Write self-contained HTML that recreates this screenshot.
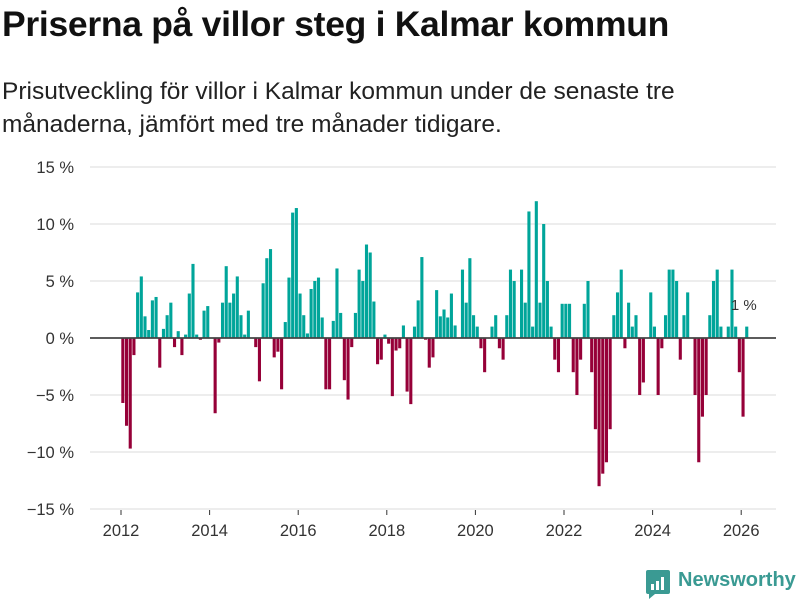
<!DOCTYPE html>
<html><head><meta charset="utf-8">
<style>
body{margin:0;background:#fff;font-family:"Liberation Sans",sans-serif;}
#wrap{position:relative;width:800px;height:600px;overflow:hidden;}
h1{position:absolute;left:2px;top:4px;margin:0;font-size:35.5px;font-weight:bold;color:#111;letter-spacing:-0.3px;white-space:nowrap;}
p.sub{position:absolute;left:2px;top:75px;margin:0;font-size:24.5px;line-height:33px;color:#222;width:700px;}
</style></head><body>
<div id="wrap">
<h1>Priserna på villor steg i Kalmar kommun</h1>
<p class="sub">Prisutveckling för villor i Kalmar kommun under de senaste tre månaderna, jämfört med tre månader tidigare.</p>
<svg id="chart" width="800" height="600" style="position:absolute;left:0;top:0"></svg>
<svg width="26" height="30" style="position:absolute;left:645px;top:570px">
<path d="M1 2 Q1 0 3 0 L23 0 Q25 0 25 2 L25 22 Q25 24 23 24 L10 24 L4 29 L4 24 L3 24 Q1 24 1 22 Z" fill="#3a9a93"/>
<rect x="6" y="14" width="3" height="6" fill="#fff"/><rect x="11" y="11" width="3" height="9" fill="#fff"/><rect x="16" y="7" width="3" height="13" fill="#fff"/>
</svg>
<div style="position:absolute;left:678px;top:569px;font-size:20px;font-weight:bold;color:#3a9a93;">Newsworthy</div>
</div>
<script>
const startYear = 2012;
const values = [
-5.7,-7.7,-9.7,-1.5,4.0,5.4,1.9,0.7,3.3,3.6,-2.6,0.8,2.0,3.1,-0.8,0.6,-1.5,0.3,3.9,6.5,0.3,-0.15,2.4,2.8,0,-6.6,-0.4,3.1,6.3,3.1,3.9,5.4,2.0,0.3,2.4,0,-0.8,-3.8,4.8,7.0,7.8,-1.7,-1.2,-4.5,
1.4,5.3,11.0,11.4,3.9,2.0,0.4,4.3,5.0,5.3,1.8,-4.5,-4.5,1.5,6.1,2.2,-3.7,-5.4,-0.8,2.2,6.0,5.0,8.2,7.5,3.2,-2.3,-1.9,0.3,-0.5,-5.1,-1.1,-0.9,1.1,-4.7,-5.8,1.0,3.3,7.1,-0.15,-2.6,-1.7,4.2,1.9,
2.5,1.8,3.9,1.1,0,6.0,3.1,7.0,2.0,1.0,-0.9,-3.0,0,1.0,2.0,-0.9,-1.9,2.0,6.0,5.0,0,6.0,3.1,11.1,1.0,12.0,3.1,10.0,5.0,1.0,-1.9,-3.0,3.0,3.0,3.0,-3.0,-5.0,-1.9,3.0,5.0,-3.0,-8.0,-13.0,
-11.9,-10.9,-8.0,2.0,4.0,6.0,-0.9,3.1,1.0,2.0,-5.0,-3.9,0,4.0,1.0,-5.0,-0.9,2.0,6.0,6.0,5.0,-1.9,2.0,4.0,0,-5.0,-10.9,-6.9,-5.0,2.0,5.0,6.0,1.0,0,1.0,6.0,1.0,-3.0,-6.9,1.0
];
const yTicks = [15,10,5,0,-5,-10,-15];
const yTickLabels = ["15 %","10 %","5 %","0 %","\u22125 %","\u221210 %","\u221215 %"];
const xTicks = [2012,2014,2016,2018,2020,2022,2024,2026];
const lastLabel = "1 %";

const svg = document.getElementById('chart');
const NS = 'http://www.w3.org/2000/svg';
const y = v => 338 - v * 11.4;
const x = t => 121 + (t - startYear) * 44.3;
function mk(tag, attrs){const e=document.createElementNS(NS,tag);for(const k in attrs)e.setAttribute(k,attrs[k]);svg.appendChild(e);return e;}

yTicks.forEach((t,i)=>{
  if(t!==0){
    const g = mk('line',{x1:90,x2:776,y1:y(t),y2:y(t),stroke:'#e2e2e2','stroke-width':1.3});
    
    
  }
  const l = mk('text',{x:74,y:y(t)+6,'text-anchor':'end','font-size':16.5,fill:'#333','font-family':'Liberation Sans, sans-serif'});
  l.textContent = yTickLabels[i];
  
  
});
xTicks.forEach(t=>{
  const tk = mk('line',{x1:x(t),x2:x(t),y1:510,y2:515,stroke:'#333','stroke-width':1});
  
  
  const l = mk('text',{x:x(t),y:536,'text-anchor':'middle','font-size':16.5,fill:'#333','font-family':'Liberation Sans, sans-serif'});
  l.textContent = t;
  
  
});
values.forEach((v,i)=>{
  if(v===0) return;
  const x0 = x(startYear + i/12) + 0.3;
  const top = v>0 ? y(v) : y(0);
  const r = mk('rect',{x:x0,y:top,width:3.1,height:Math.abs(y(v)-y(0)),fill:v>0?'#00a59a':'#960038'});
  
  
});
const z = mk('line',{x1:90,x2:776,y1:y(0),y2:y(0),stroke:'#444','stroke-width':1.8});


const li = values.length-1;
const lab = mk('text',{x:x(startYear+li/12)-14,y:310,'font-size':15,fill:'#333','font-family':'Liberation Sans, sans-serif'});
lab.textContent = lastLabel;


</script>
</body></html>
